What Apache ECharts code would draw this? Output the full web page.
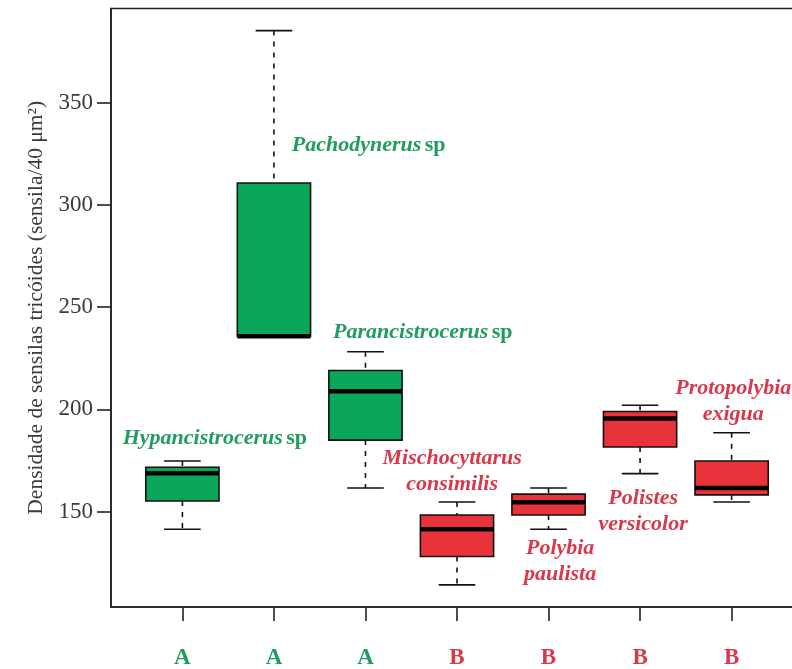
<!DOCTYPE html>
<html>
<head>
<meta charset="utf-8">
<script src="https://cdn.jsdelivr.net/npm/echarts@6/dist/echarts.min.js"></script>
<style>
  html, body { margin: 0; padding: 0; background: #fff; }
  #chart { width: 792px; height: 669px; }
</style>
</head>
<body>
<div id="chart"></div>
<script>
// Trichoid sensilla density per wasp species (box-and-whisker summary)
const species = [
  'Hypancistrocerus sp', 'Pachodynerus sp', 'Parancistrocerus sp',
  'Mischocyttarus consimilis', 'Polybia paulista', 'Polistes versicolor', 'Protopolybia exigua'
];
const groupLetters = ['A', 'A', 'A', 'B', 'B', 'B', 'B'];
const lowWhisker  = [141.4, 235.8, 161.6, 114.2, 141.4, 168.6, 154.7];
const lowerQuart  = [155.2, 235.8, 185.0, 128.1, 148.4, 181.6, 158.2];
const medians     = [168.8, 235.8, 208.9, 141.4, 154.6, 195.6, 161.6];
const upperQuart  = [171.7, 310.7, 219.0, 148.4, 158.6, 199.0, 174.8];
const highWhisker = [174.8, 385.2, 228.2, 154.7, 161.6, 202.0, 188.6];
const yTicks = [150, 200, 250, 300, 350];
const xTicks = [1, 2, 3, 4, 5, 6, 7];

// Species name annotations: rich-text lines, anchor in data units, alignment
const speciesLabels = [
  { lines: ['{i|Hypancistrocerus} {n|sp}'], at: [0.348, 185.8], align: 'left' },
  { lines: ['{i|Pachodynerus} {n|sp}'], at: [2.195, 329.1], align: 'left' },
  { lines: ['{i|Parancistrocerus} {n|sp}'], at: [2.646, 237.7], align: 'left' },
  { lines: ['{i|Mischocyttarus}', '{i|consimilis}'], at: [3.947, 169.7], align: 'center' },
  { lines: ['{i|Polybia}', '{i|paulista}'], at: [5.127, 125.5], align: 'center' },
  { lines: ['{i|Polistes}', '{i|versicolor}'], at: [6.034, 150.0], align: 'center' },
  { lines: ['{i|Protopolybia}', '{i|exigua}'], at: [7.018, 204.2], align: 'center' }
];

const GREEN = '#0aa65a';
const RED = '#e8333b';
const GREEN_TEXT = '#1f9c5e';
const RED_TEXT = '#d8384a';
const fillFor = (g) => g === 'A' ? GREEN : RED;
const textFor = (g) => g === 'A' ? GREEN_TEXT : RED_TEXT;
const SERIF = '"Liberation Serif", "Times New Roman", serif';

const boxData = species.map((s, i) => [
  i + 1, lowWhisker[i], lowerQuart[i], medians[i], upperQuart[i], highWhisker[i]
]);

function renderBox(params, api) {
  const x = api.value(0);
  const lo = api.value(1), q1 = api.value(2), med = api.value(3), q3 = api.value(4), hi = api.value(5);
  const halfBox = api.size([0.4, 0])[0];
  const halfCap = api.size([0.2, 0])[0];
  const pHi = api.coord([x, hi]);
  const pQ3 = api.coord([x, q3]);
  const pMed = api.coord([x, med]);
  const pQ1 = api.coord([x, q1]);
  const pLo = api.coord([x, lo]);
  const cx = pMed[0];
  const fill = fillFor(groupLetters[params.dataIndex]);
  const lineStyle = { stroke: '#111', lineWidth: 1.6 };
  const dashStyle = { stroke: '#111', lineWidth: 1.6, lineDash: [5, 6] };
  return {
    type: 'group',
    children: [
      { type: 'line', shape: { x1: cx, y1: pHi[1], x2: cx, y2: pQ3[1] }, style: dashStyle },
      { type: 'line', shape: { x1: cx, y1: pQ1[1], x2: cx, y2: pLo[1] }, style: dashStyle },
      { type: 'line', shape: { x1: cx - halfCap, y1: pHi[1], x2: cx + halfCap, y2: pHi[1] }, style: lineStyle },
      { type: 'line', shape: { x1: cx - halfCap, y1: pLo[1], x2: cx + halfCap, y2: pLo[1] }, style: lineStyle },
      {
        type: 'rect',
        shape: { x: cx - halfBox, y: pQ3[1], width: 2 * halfBox, height: pQ1[1] - pQ3[1] },
        style: { fill: fill, stroke: '#111', lineWidth: 1.6 }
      },
      { type: 'line', shape: { x1: cx - halfBox, y1: pMed[1], x2: cx + halfBox, y2: pMed[1] },
        style: { stroke: '#000', lineWidth: 4.5 } }
    ]
  };
}

function renderLabel(params, api) {
  const item = speciesLabels[params.dataIndex];
  const p = api.coord(item.at);
  const color = textFor(groupLetters[params.dataIndex]);
  return {
    type: 'text',
    x: p[0],
    y: p[1],
    style: {
      text: item.lines.join('\n'),
      align: item.align,
      verticalAlign: 'middle',
      fill: color,
      lineHeight: 26,
      rich: {
        i: { fontFamily: SERIF, fontStyle: 'italic', fontWeight: 'bold', fontSize: 22, fill: color, lineHeight: 26 },
        n: { fontFamily: SERIF, fontWeight: 'bold', fontSize: 22, fill: color, lineHeight: 26 }
      }
    }
  };
}

const chart = echarts.init(document.getElementById('chart'), null, { renderer: 'canvas' });
chart.setOption({
  animation: false,
  backgroundColor: '#fff',
  grid: {
    left: 111, top: 8.5, bottom: 62, width: 692,
    outerBoundsMode: 'none',
    containLabel: false,
    show: true, borderColor: '#222', borderWidth: 1.6, backgroundColor: 'transparent'
  },
  xAxis: {
    type: 'value',
    min: 0.22, max: 7.78,
    axisLine: { show: true, lineStyle: { color: '#222', width: 1.6 } },
    axisTick: { show: true, customValues: xTicks, length: 14, lineStyle: { color: '#222', width: 1.6 } },
    axisLabel: {
      customValues: xTicks,
      margin: 40,
      verticalAlign: 'top',
      formatter: (v) => {
        const g = groupLetters[Math.round(v) - 1];
        return '{' + g + '|' + g + '}';
      },
      rich: {
        A: { color: GREEN_TEXT, fontFamily: SERIF, fontWeight: 'bold', fontSize: 23 },
        B: { color: RED_TEXT, fontFamily: SERIF, fontWeight: 'bold', fontSize: 23 }
      }
    },
    splitLine: { show: false }
  },
  yAxis: {
    type: 'value',
    min: 103.4, max: 396,
    name: 'Densidade de sensilas tricóides (sensila/40 μm²)',
    nameLocation: 'middle',
    nameGap: 63,
    nameTextStyle: { fontFamily: SERIF, fontSize: 21.5, color: '#3a3a3a' },
    axisLine: { show: true, lineStyle: { color: '#222', width: 1.6 } },
    axisTick: { show: true, customValues: yTicks, length: 14, lineStyle: { color: '#222', width: 1.6 } },
    axisLabel: {
      customValues: yTicks,
      margin: 18,
      fontFamily: SERIF, fontSize: 23, color: '#3a3a3a'
    },
    splitLine: { show: false }
  },
  series: [
    {
      type: 'custom',
      name: 'boxes',
      data: boxData,
      encode: { x: 0, y: [1, 2, 3, 4, 5] },
      renderItem: renderBox,
      z: 2
    },
    {
      type: 'custom',
      name: 'species',
      data: speciesLabels.map((l) => l.at),
      encode: { x: 0, y: 1 },
      renderItem: renderLabel,
      z: 3
    }
  ]
});
</script>
</body>
</html>
